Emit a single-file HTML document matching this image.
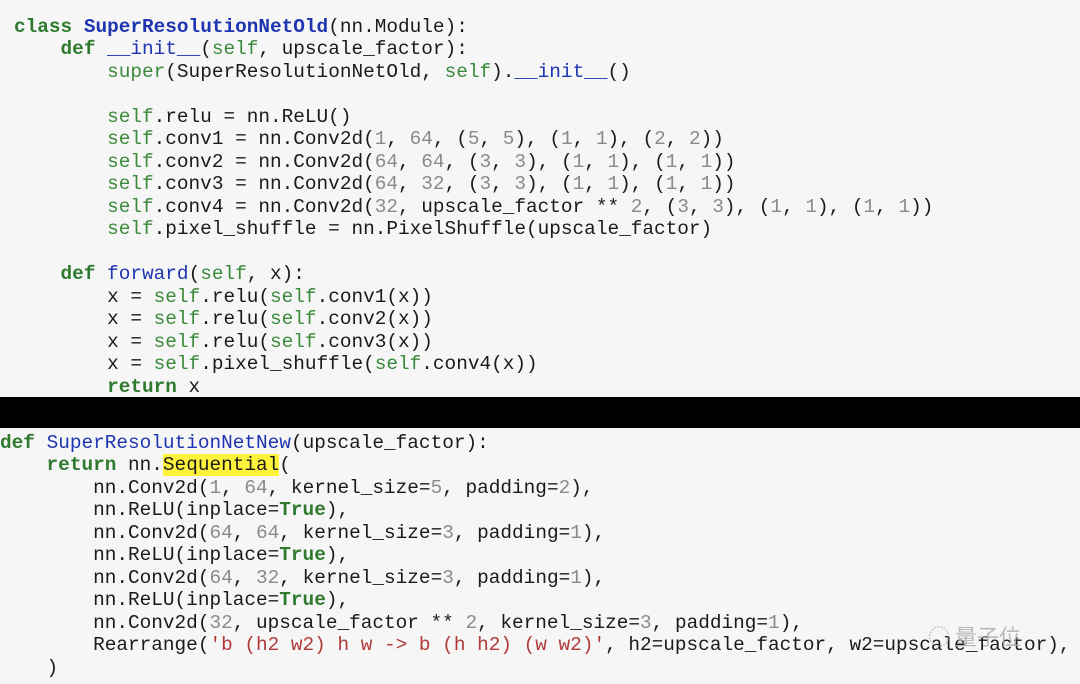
<!DOCTYPE html>
<html><head><meta charset="utf-8"><style>
html,body{margin:0;padding:0}
body{width:1080px;height:684px;background:#f6f6f7;position:relative;overflow:hidden}
pre{position:absolute;margin:0;font-family:"Liberation Mono",monospace;font-size:19.4px;line-height:22.5px;color:#1a1a1a;white-space:pre}
.k{color:#2f7a2f;font-weight:bold}
.c{color:#1f35b0;font-weight:bold}
.f{color:#1f35b0}
.s{color:#3b8a3b}
.n{color:#8a8a8a}
.r{color:#b03a3a}
.h{background:#fff23a}
#band{position:absolute;left:0;top:397px;width:1080px;height:31px;background:#000}
#wm{position:absolute;left:928px;top:620px;font-family:"Noto Sans CJK SC",sans-serif;font-size:22px;color:#aaa;opacity:.8}
</style></head><body>
<pre style="left:14px;top:15.75px"><span class="k">class</span> <span class="c">SuperResolutionNetOld</span>(nn.Module):
    <span class="k">def</span> <span class="f">__init__</span>(<span class="s">self</span>, upscale_factor):
        <span class="s">super</span>(SuperResolutionNetOld, <span class="s">self</span>).<span class="f">__init__</span>()

        <span class="s">self</span>.relu = nn.ReLU()
        <span class="s">self</span>.conv1 = nn.Conv2d(<span class="n">1</span>, <span class="n">64</span>, (<span class="n">5</span>, <span class="n">5</span>), (<span class="n">1</span>, <span class="n">1</span>), (<span class="n">2</span>, <span class="n">2</span>))
        <span class="s">self</span>.conv2 = nn.Conv2d(<span class="n">64</span>, <span class="n">64</span>, (<span class="n">3</span>, <span class="n">3</span>), (<span class="n">1</span>, <span class="n">1</span>), (<span class="n">1</span>, <span class="n">1</span>))
        <span class="s">self</span>.conv3 = nn.Conv2d(<span class="n">64</span>, <span class="n">32</span>, (<span class="n">3</span>, <span class="n">3</span>), (<span class="n">1</span>, <span class="n">1</span>), (<span class="n">1</span>, <span class="n">1</span>))
        <span class="s">self</span>.conv4 = nn.Conv2d(<span class="n">32</span>, upscale_factor ** <span class="n">2</span>, (<span class="n">3</span>, <span class="n">3</span>), (<span class="n">1</span>, <span class="n">1</span>), (<span class="n">1</span>, <span class="n">1</span>))
        <span class="s">self</span>.pixel_shuffle = nn.PixelShuffle(upscale_factor)

    <span class="k">def</span> <span class="f">forward</span>(<span class="s">self</span>, x):
        x = <span class="s">self</span>.relu(<span class="s">self</span>.conv1(x))
        x = <span class="s">self</span>.relu(<span class="s">self</span>.conv2(x))
        x = <span class="s">self</span>.relu(<span class="s">self</span>.conv3(x))
        x = <span class="s">self</span>.pixel_shuffle(<span class="s">self</span>.conv4(x))
        <span class="k">return</span> x</pre>
<div id="band"></div>
<pre style="left:0px;top:431.75px"><span class="k">def</span> <span class="f">SuperResolutionNetNew</span>(upscale_factor):
    <span class="k">return</span> nn.<span class="h">Sequential</span>(
        nn.Conv2d(<span class="n">1</span>, <span class="n">64</span>, kernel_size=<span class="n">5</span>, padding=<span class="n">2</span>),
        nn.ReLU(inplace=<span class="k">True</span>),
        nn.Conv2d(<span class="n">64</span>, <span class="n">64</span>, kernel_size=<span class="n">3</span>, padding=<span class="n">1</span>),
        nn.ReLU(inplace=<span class="k">True</span>),
        nn.Conv2d(<span class="n">64</span>, <span class="n">32</span>, kernel_size=<span class="n">3</span>, padding=<span class="n">1</span>),
        nn.ReLU(inplace=<span class="k">True</span>),
        nn.Conv2d(<span class="n">32</span>, upscale_factor ** <span class="n">2</span>, kernel_size=<span class="n">3</span>, padding=<span class="n">1</span>),
        Rearrange(<span class="r">'b (h2 w2) h w -&gt; b (h h2) (w w2)'</span>, h2=upscale_factor, w2=upscale_factor),
    )</pre>
<div id="wm">◌ 量子位</div>
</body></html>
